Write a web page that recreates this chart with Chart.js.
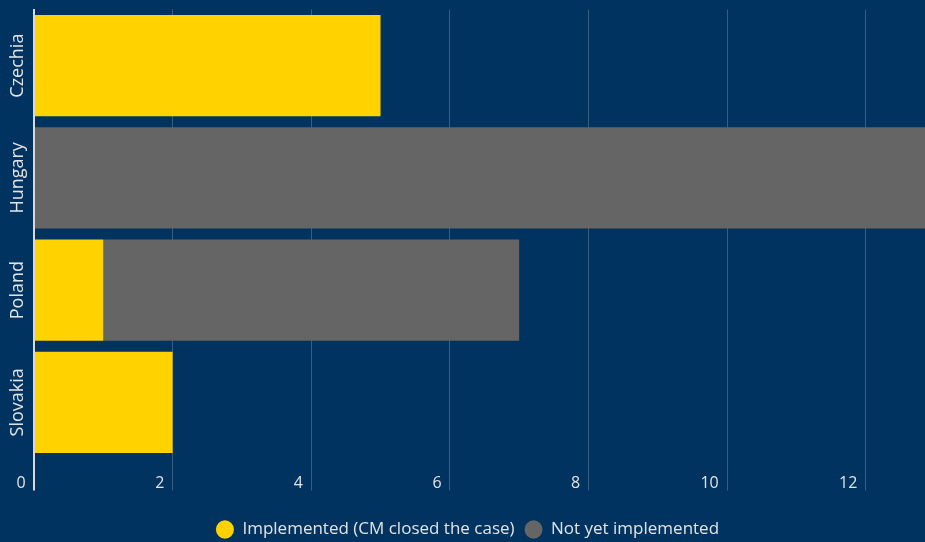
<!DOCTYPE html>
<html>
<head>
<meta charset="utf-8">
<script src="https://cdn.jsdelivr.net/npm/chart.js@4"></script>
<style>
    html, body { margin: 0; padding: 0; background: #00335f; overflow: hidden; }
    #wrap { width: 935px; height: 542px; position: relative; }
</style>
</head>
<body>
<div id="wrap"><canvas id="barChart"></canvas></div>
<script>
const categories = ['Czechia', 'Hungary', 'Poland', 'Slovakia'];
const implemented = [5, 0, 1, 2];
const notYetImplemented = [0, 13, 6, 0];
const seriesLabels = ['Implemented (CM closed the case)', 'Not yet implemented'];

const textColor = '#e4e4e4';
const fontFamily = '"Open Sans", sans-serif';

const ctx = document.getElementById('barChart').getContext('2d');
new Chart(ctx, {
    type: 'bar',
    data: {
        labels: categories,
        datasets: [
            {
                label: seriesLabels[0],
                data: implemented,
                backgroundColor: '#ffd200',
                borderWidth: 0,
                categoryPercentage: 0.9,
                barPercentage: 1
            },
            {
                label: seriesLabels[1],
                data: notYetImplemented,
                backgroundColor: '#656565',
                borderWidth: 0,
                categoryPercentage: 0.9,
                barPercentage: 1
            }
        ]
    },
    options: {
        indexAxis: 'y',
        responsive: true,
        maintainAspectRatio: false,
        animation: false,
        layout: { padding: { top: 9.5, left: 0, right: 0, bottom: -6 } },
        plugins: {
            tooltip: { enabled: false },
            legend: {
                position: 'bottom',
                labels: {
                    usePointStyle: true,
                    pointStyle: 'circle',
                    boxHeight: 13,
                    pointStyleWidth: 18,
                    color: textColor,
                    padding: 10,
                    font: { family: fontFamily, size: 17 }
                }
            }
        },
        scales: {
            x: {
                stacked: true,
                min: 0,
                max: 13,
                afterFit: s => { s.height = 52.5; },
                ticks: {
                    stepSize: 2,
                    includeBounds: false,
                    align: 'end',
                    padding: -17,
                    color: textColor,
                    font: { family: fontFamily, size: 16 },
                    callback: v => v + '  '
                },
                grid: {
                    color: c => c.tick && c.tick.value === 0 ? '#d9d9d9' : 'rgba(255, 255, 255, 0.22)',
                    lineWidth: c => c.tick && c.tick.value === 0 ? 2 : 1,
                    tickLength: 32
                },
                border: { display: false }
            },
            y: {
                stacked: true,
                afterFit: s => { s.width = 34; },
                grid: { display: false, drawTicks: false },
                border: { display: true, color: '#d9d9d9', width: 2 },
                ticks: {
                    minRotation: 90,
                    maxRotation: 90,
                    crossAlign: 'center',
                    padding: -20,
                    color: textColor,
                    font: { family: fontFamily, size: 18 }
                }
            }
        }
    }
});
</script>
</body>
</html>
